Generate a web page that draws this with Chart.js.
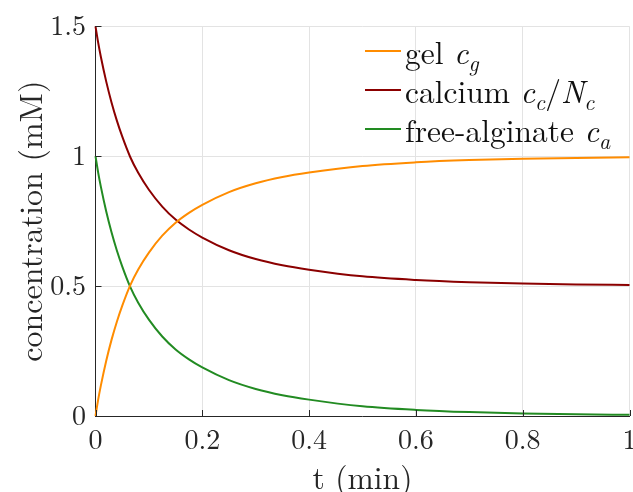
<!DOCTYPE html>
<html>
<head>
<meta charset="utf-8">
<script src="https://cdn.jsdelivr.net/npm/chart.js@4/dist/chart.umd.min.js"></script>
<style>
  html, body { margin: 0; padding: 0; background: #fff; }
  #wrap { position: relative; width: 633px; height: 492px; }
  #chart { position: absolute; left: 0; top: 0; }
  #legend {
    position: absolute; left: 365px; top: 31px;
    font-family: 'Latin Modern Roman', 'Liberation Serif', serif;
    font-size: 31.5px; color: #111;
  }
  .row { display: flex; align-items: center; height: 39.2px; white-space: nowrap; }
  .swatch { width: 36px; height: 2px; margin-right: 4px; }
  .m { font-style: italic; }
  .s { font-size: 0.7em; position: relative; top: 0.3em; }
</style>
</head>
<body>
<div id="wrap">
  <canvas id="chart" width="633" height="492"></canvas>
  <div id="legend"></div>
</div>
<script>
// time samples (min)
const tMin = [0, 0.005, 0.01, 0.02, 0.03, 0.04, 0.05, 0.065, 0.08, 0.1, 0.125, 0.15, 0.175,
              0.2, 0.25, 0.3, 0.35, 0.4, 0.5, 0.6, 0.7, 0.8, 0.9, 1.0];

// gel concentration c_g (mM)
const gel = [0, 0.063, 0.117, 0.212, 0.293, 0.363, 0.424, 0.503, 0.564, 0.629, 0.694, 0.744, 0.782,
             0.813, 0.862, 0.896, 0.920, 0.937, 0.9625, 0.9765, 0.985, 0.9902, 0.9935, 0.9955];

// calcium c_c / N_c (mM)
const calcium = [1.5, 1.437, 1.383, 1.288, 1.207, 1.137, 1.076, 0.997, 0.936, 0.871, 0.806, 0.756, 0.718,
                 0.687, 0.638, 0.604, 0.580, 0.563, 0.5375, 0.5235, 0.515, 0.5098, 0.5065, 0.5045];

// free alginate c_a (mM)
const freeAlginate = [1.0, 0.937, 0.883, 0.788, 0.707, 0.637, 0.576, 0.497, 0.436, 0.371, 0.306, 0.256, 0.218,
                      0.187, 0.138, 0.104, 0.080, 0.063, 0.0375, 0.0235, 0.015, 0.0098, 0.0065, 0.0045];

// axis ticks
const xTickValues = [0, 0.2, 0.4, 0.6, 0.8, 1];
const xTickLabels = ['0', '0.2', '0.4', '0.6', '0.8', '1'];
const yTickValues = [0, 0.5, 1, 1.5];
const yTickLabels = ['0', '0.5', '1', '1.5'];

const seriesNames = ['gel', 'calcium', 'free-alginate'];
const seriesColors = ['#ff8c00', '#8b0000', '#228b22'];
// legend labels, math parts marked up
const legendHtml = [
  'gel <span class="m">c</span><span class="s m">g</span>',
  'calcium <span class="m">c</span><span class="s m">c</span>/<span class="m">N</span><span class="s m">c</span>',
  'free-alginate <span class="m">c</span><span class="s m">a</span>'
];

const axisColor = '#262626';
const gridColor = '#e3e3e3';
const serif = "'Latin Modern Roman', 'Liberation Serif', serif";

const toPoints = ys => tMin.map((t, i) => ({ x: t, y: ys[i] }));
const seriesValues = [gel, calcium, freeAlginate];

const datasets = seriesValues.map((ys, i) => ({
  label: seriesNames[i],
  data: toPoints(ys),
  borderColor: seriesColors[i],
  backgroundColor: seriesColors[i],
  borderWidth: 2,
  pointRadius: 0,
  cubicInterpolationMode: 'monotone',
  clip: false
}));

// short tick marks pointing into the plot area
const innerTicks = {
  id: 'innerTicks',
  afterDatasetsDraw(chart) {
    const { ctx, chartArea: a, scales: { x, y } } = chart;
    ctx.save();
    ctx.strokeStyle = axisColor;
    ctx.lineWidth = 1;
    ctx.beginPath();
    xTickValues.forEach(v => {
      const px = Math.round(x.getPixelForValue(v)) + 0.5;
      ctx.moveTo(px, a.bottom);
      ctx.lineTo(px, a.bottom - 6);
    });
    yTickValues.forEach(v => {
      const py = Math.round(y.getPixelForValue(v)) + 0.5;
      ctx.moveTo(a.left, py);
      ctx.lineTo(a.left + 6, py);
    });
    ctx.stroke();
    ctx.restore();
  }
};

new Chart(document.getElementById('chart'), {
  type: 'line',
  data: { datasets },
  plugins: [innerTicks],
  options: {
    responsive: false,
    animation: false,
    devicePixelRatio: 1,
    layout: { padding: { top: 19, right: 3.5, bottom: 0, left: 0 } },
    plugins: { legend: { display: false }, tooltip: { enabled: false } },
    scales: {
      x: {
        type: 'linear',
        min: 0, max: 1,
        afterBuildTicks: s => { s.ticks = xTickValues.map(v => ({ value: v })); },
        afterFit: s => { s.height = 76; s.paddingRight = 0; s.paddingLeft = 0; },
        ticks: {
          callback: (v, i) => xTickLabels[i],
          font: { family: serif, size: 28 },
          color: axisColor,
          padding: 7.7,
          maxRotation: 0
        },
        grid: { color: gridColor, drawTicks: false },
        border: { color: axisColor, width: 1 },
        title: {
          display: true, text: 't (min)', color: axisColor,
          font: { family: serif, size: 31.5, lineHeight: 0.8 },
          padding: 0
        }
      },
      y: {
        type: 'linear',
        min: 0, max: 1.5,
        afterBuildTicks: s => { s.ticks = yTickValues.map(v => ({ value: v })); },
        afterFit: s => { s.width = 95.5; },
        ticks: {
          callback: (v, i) => yTickLabels[i],
          font: { family: serif, size: 28 },
          color: axisColor,
          padding: 9.5
        },
        grid: { color: gridColor, drawTicks: false },
        border: { color: axisColor, width: 1 },
        title: {
          display: true, text: 'concentration (mM)', color: axisColor,
          font: { family: serif, size: 32, lineHeight: 1 },
          padding: { top: 16, bottom: 0 }
        }
      }
    }
  }
});

// legend built from the series names and colours
const legend = document.getElementById('legend');
seriesNames.forEach((name, i) => {
  const row = document.createElement('div');
  row.className = 'row';
  const sw = document.createElement('span');
  sw.className = 'swatch';
  sw.style.background = seriesColors[i];
  const label = document.createElement('span');
  label.innerHTML = legendHtml[i];
  row.appendChild(sw);
  row.appendChild(label);
  legend.appendChild(row);
});
</script>
</body>
</html>
